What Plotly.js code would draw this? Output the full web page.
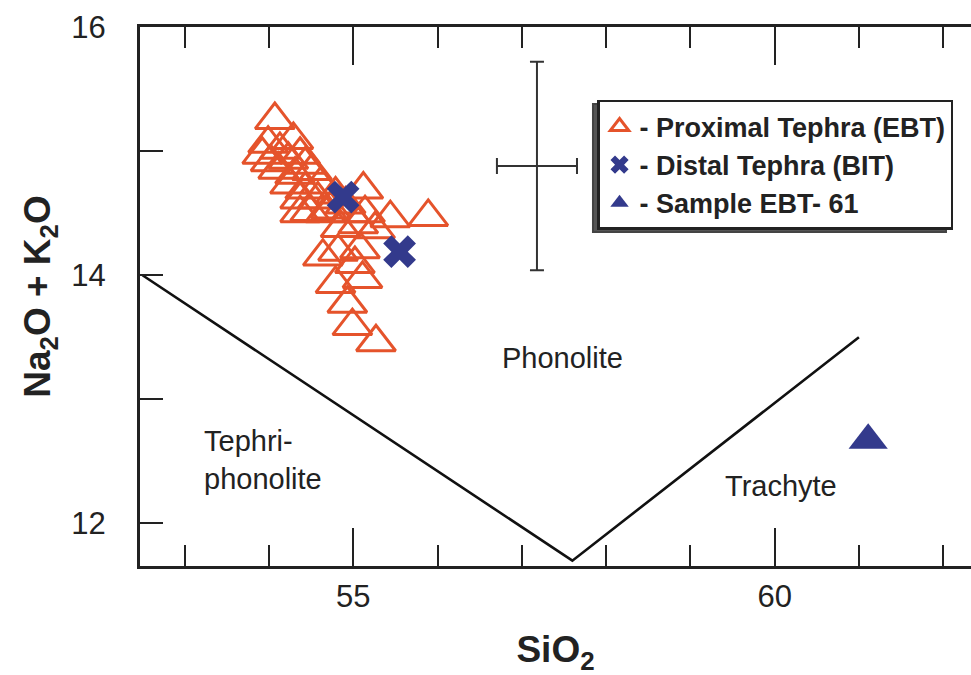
<!DOCTYPE html>
<html>
<head>
<meta charset="utf-8">
<script src="https://cdn.plot.ly/plotly-3.0.1.min.js"></script>
<style>
html,body{margin:0;padding:0;background:#fff;}
#chart{width:971px;height:675px;}
</style>
</head>
<body>
<div id="chart"></div>
<script>
// ---- data ----
const proximalSiO2 = [54.07,53.99,54.29,53.92,54.13,54.37,54.02,54.23,54.43,54.11,54.31,54.51,54.25,54.43,54.61,54.37,54.58,54.79,54.49,54.73,54.91,54.37,54.67,54.96,55.14,55.12,54.85,55.06,55.26,55.44,55.89,54.64,54.82,55.08,55.02,55.11,54.79,54.93,54.99,55.27];
const proximalAlk  = [15.25,15.06,15.09,14.97,15.01,14.97,14.91,14.93,14.89,14.85,14.81,14.84,14.73,14.69,14.73,14.61,14.61,14.65,14.51,14.53,14.57,14.50,14.50,14.50,14.50,14.69,14.38,14.41,14.37,14.46,14.47,14.15,14.19,14.21,14.09,13.97,13.93,13.77,13.59,13.46];

const distalSiO2 = [54.88, 55.55];
const distalAlk  = [14.63, 14.19];

const sampleSiO2 = [61.11];
const sampleAlk  = [12.67];

// TAS field boundary
const boundarySiO2 = [52.5, 57.6, 61.0];
const boundaryAlk  = [14.0, 11.7, 13.5];

// analytical uncertainty cross
const errSiO2 = [57.18];
const errAlk  = [14.88];
const errSiO2Size = [0.475];
const errAlkSize  = [0.84];

// labels
const seriesNames = ['- Proximal Tephra (EBT)', '- Distal Tephra (BIT)', '- Sample EBT- 61'];
const fieldNames = ['Phonolite', 'Tephri-<br>phonolite', 'Trachyte'];
const fieldSiO2 = [57.48, 53.21, 60.07];
const fieldAlk  = [13.33, 12.515, 12.30];
const xTickVals = [55, 60];
const yTickVals = [12, 14, 16];

const FONT = 'Liberation Sans, Arial, Helvetica, sans-serif';
const INK = '#222222';
const ORANGE = '#e5532b';
const NAVY = '#333a8c';

const traces = [
  {
    x: boundarySiO2, y: boundaryAlk, type: 'scatter', mode: 'lines',
    line: {color: '#111', width: 2.6}, showlegend: false, hoverinfo: 'skip'
  },
  {
    x: errSiO2, y: errAlk, type: 'scatter', mode: 'markers',
    marker: {size: 1, opacity: 0}, showlegend: false, hoverinfo: 'skip',
    error_x: {type: 'data', array: errSiO2Size, symmetric: true, color: '#333', thickness: 2, width: 8},
    error_y: {type: 'data', array: errAlkSize, symmetric: true, color: '#333', thickness: 2, width: 7}
  },
  {
    x: proximalSiO2, y: proximalAlk, type: 'scatter', mode: 'markers',
    name: '<b>' + seriesNames[0] + '</b>', legendgroup: 'a',
    marker: {symbol: 'triangle-up-open', size: 34, color: ORANGE, line: {color: ORANGE, width: 3}}
  },
  {
    x: distalSiO2, y: distalAlk, type: 'scatter', mode: 'markers',
    name: '<b>' + seriesNames[1] + '</b>', legendgroup: 'b',
    marker: {symbol: 'x', size: 29, color: NAVY, line: {width: 0}}
  },
  {
    x: sampleSiO2, y: sampleAlk, type: 'scatter', mode: 'markers',
    name: '<b>' + seriesNames[2] + '</b>', legendgroup: 'c',
    marker: {symbol: 'triangle-up', size: 34, color: NAVY, line: {width: 0}}
  }
];

const annotations = fieldNames.map((t, i) => ({
  x: fieldSiO2[i], y: fieldAlk[i], xref: 'x', yref: 'y',
  text: t, showarrow: false, align: 'left',
  xanchor: i === 1 ? 'left' : 'center', yanchor: 'middle',
  font: {family: FONT, size: 29, color: INK}
}));

const layout = {
  width: 971, height: 675,
  margin: {l: 140, r: 0, t: 27, b: 109, pad: 0},
  paper_bgcolor: '#ffffff', plot_bgcolor: '#ffffff',
  font: {family: FONT, color: INK},
  showlegend: true,
  legend: {
    x: 0.550, y: 0.8646, xanchor: 'left', yanchor: 'top',
    bgcolor: '#ffffff', bordercolor: INK, borderwidth: 2.5,
    font: {family: FONT, size: 27, color: INK},
    tracegroupgap: 0, traceorder: 'grouped', itemwidth: 30
  },
  xaxis: {
    range: [52.47, 62.33], autorange: false,
    tickmode: 'array', tickvals: xTickVals, ticktext: xTickVals.map(String),
    ticks: 'inside', ticklen: 38, tickwidth: 2, tickcolor: INK,
    minor: {dtick: 1, tick0: 0, ticks: 'inside', ticklen: 21, tickwidth: 2, tickcolor: INK, showgrid: false},
    showline: true, linewidth: 3, linecolor: INK, mirror: 'ticks',
    showgrid: false, zeroline: false,
    tickfont: {family: FONT, size: 31, color: INK},
    ticklabelstandoff: 1,
    title: {text: '<b>SiO<sub>2</sub></b>', font: {family: FONT, size: 37, color: INK}, standoff: 28}
  },
  yaxis: {
    range: [11.657, 16], autorange: false,
    tickmode: 'array', tickvals: yTickVals, ticktext: yTickVals.map(String),
    ticks: 'inside', ticklen: 23, tickwidth: 2, tickcolor: INK,
    minor: {dtick: 1, tick0: 0, ticks: 'inside', ticklen: 23, tickwidth: 2, tickcolor: INK, showgrid: false},
    showline: true, linewidth: 3, linecolor: INK, mirror: false,
    showgrid: false, zeroline: false,
    tickfont: {family: FONT, size: 31, color: INK},
    ticklabelstandoff: 25,
    title: {text: '<b>Na<sub>2</sub>O + K<sub>2</sub>O</b>', font: {family: FONT, size: 37, color: INK}, standoff: 10}
  },
  shapes: [
    {type: 'rect', xref: 'paper', yref: 'paper', x0: 0.5451, x1: 0.9699, y0: 0.6197, y1: 0.8571,
     line: {color: '#444', width: 2}, fillcolor: '#555', layer: 'above'}
  ],
  annotations: annotations
};

Plotly.newPlot('chart', traces, layout, {staticPlot: true, displayModeBar: false});
</script>
</body>
</html>
